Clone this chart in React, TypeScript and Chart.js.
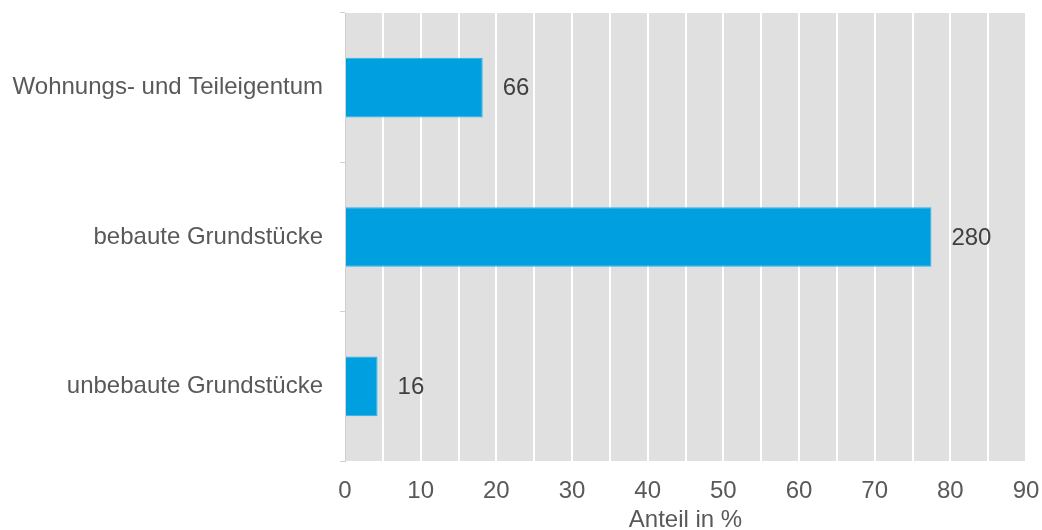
import React, { useEffect, useRef } from "react";
import { Chart, registerables } from "chart.js";

Chart.register(...registerables);

const categories = ["Wohnungs- und Teileigentum", "bebaute Grundstücke", "unbebaute Grundstücke"];
const shares = [18.2, 77.5, 4.3];
const counts = ["66", "280", "16"];
const xTitle = "Anteil in %";

const FONT = "'Liberation Sans', Arial, sans-serif";

const bgPlugin = {
  id: "plotBg",
  beforeDraw(chart: any) {
    const { ctx, chartArea } = chart;
    ctx.save();
    ctx.fillStyle = "#e0e0e0";
    ctx.fillRect(chartArea.left, chartArea.top, chartArea.right - chartArea.left, chartArea.bottom - chartArea.top);
    ctx.restore();
  },
};

const labelPlugin = {
  id: "barLabels",
  afterDatasetsDraw(chart: any) {
    const { ctx } = chart;
    const meta = chart.getDatasetMeta(0);
    ctx.save();
    ctx.fillStyle = "#404040";
    ctx.font = `24px ${FONT}`;
    ctx.textAlign = "left";
    ctx.textBaseline = "middle";
    meta.data.forEach((bar: any, i: number) => {
      ctx.fillText(counts[i], bar.x + 20, bar.y + 1);
    });
    ctx.restore();
  },
};

const zeroPad = (s: any) => {
  s.paddingLeft = 0;
  s.paddingRight = 0;
  s.paddingTop = 0;
  s.paddingBottom = 0;
};

export default function App() {
  const ref = useRef<HTMLCanvasElement>(null);
  useEffect(() => {
    document.body.style.margin = "0";
    const chart = new Chart(ref.current!, {
      type: "bar",
      data: {
        labels: categories,
        datasets: [
          {
            data: shares,
            backgroundColor: "#009fe0",
            borderColor: "#28b0e8",
            borderWidth: 1,
            categoryPercentage: 1,
            barPercentage: 0.4,
          },
        ],
      },
      options: {
        indexAxis: "y",
        animation: false,
        responsive: false,
        layout: { padding: { top: 13, right: 16, left: 0, bottom: 0 } },
        plugins: { legend: { display: false }, tooltip: { enabled: false } },
        scales: {
          x: {
            min: 0,
            max: 90,
            border: { display: false },
            grid: { color: "#ffffff", lineWidth: 2, drawTicks: false },
            ticks: {
              stepSize: 5,
              padding: 16,
              color: "#595959",
              font: { family: FONT, size: 24 },
              callback: (v: any) => (v % 10 === 0 ? String(v) : ""),
              maxRotation: 0,
              autoSkip: false,
            },
            title: {
              display: true,
              text: xTitle,
              color: "#595959",
              font: { family: FONT, size: 24 },
              padding: { top: 0, bottom: -5 },
            },
            afterFit: (s: any) => {
              s.height = 69;
              zeroPad(s);
            },
          },
          y: {
            border: { display: true, color: "#d0d0d0", width: 1 },
            grid: { drawOnChartArea: false, drawTicks: true, tickLength: 5, color: "#d0d0d0", offset: true },
            ticks: {
              padding: 17,
              color: "#595959",
              font: { family: FONT, size: 24 },
            },
            afterFit: (s: any) => {
              s.width = 345;
              zeroPad(s);
            },
          },
        },
      },
      plugins: [bgPlugin, labelPlugin],
    });
    return () => chart.destroy();
  }, []);
  return <canvas ref={ref} width={1042} height={530} style={{ display: "block" }} />;
}
